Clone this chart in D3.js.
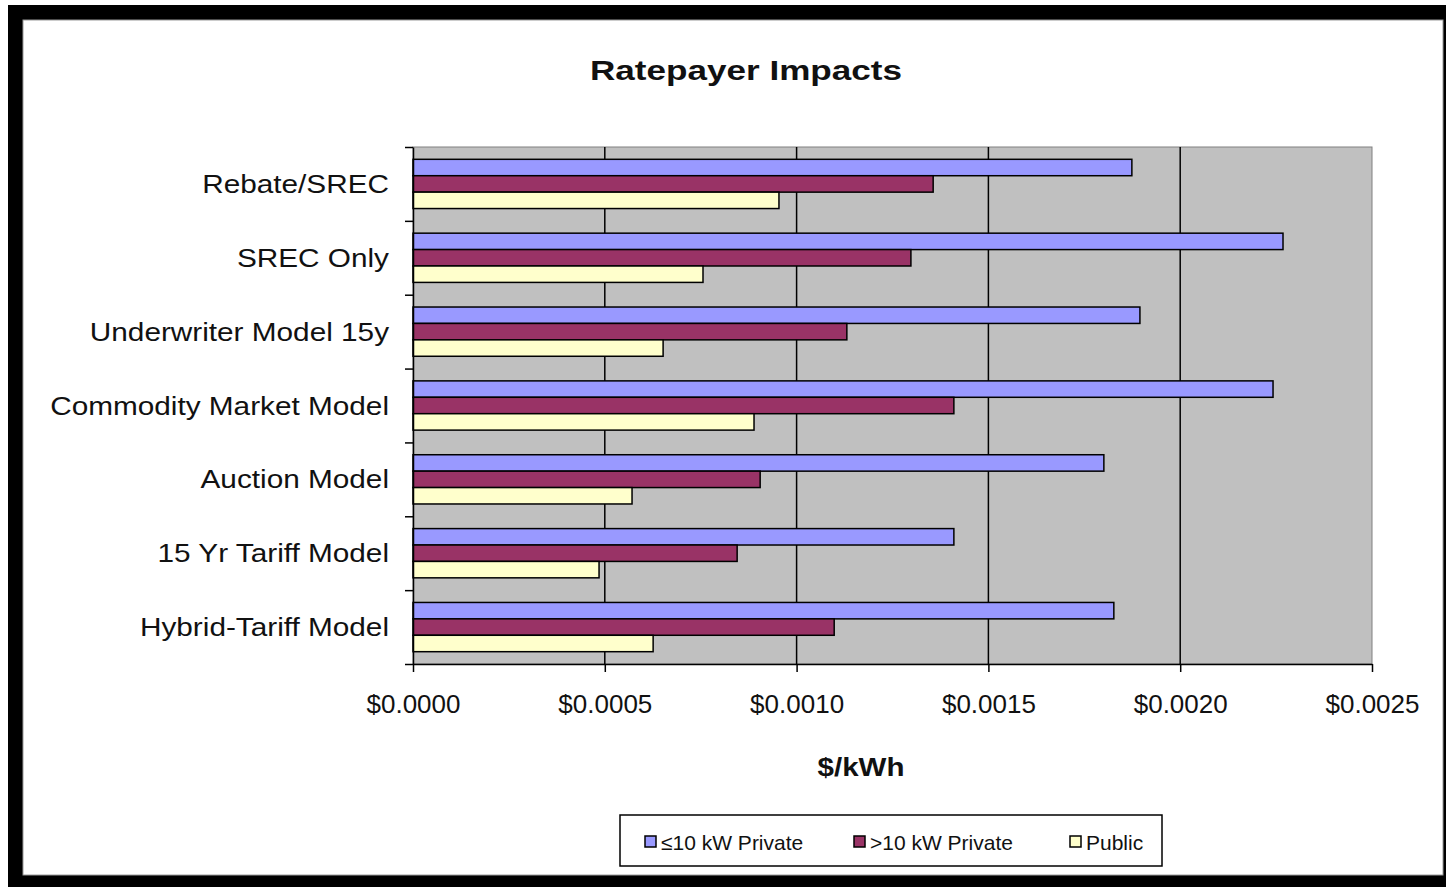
<!DOCTYPE html>
<html>
<head>
<meta charset="utf-8">
<script src="https://cdn.jsdelivr.net/npm/d3@7"></script>
<style>
  html, body { margin: 0; padding: 0; background: #fff; }
  svg { display: block; font-family: "Liberation Sans", Arial, sans-serif; }
</style>
</head>
<body>
<svg id="chart" width="1446" height="887"></svg>
<script>
// Program categories, top to bottom
const categories = [
  "Rebate/SREC",
  "SREC Only",
  "Underwriter Model 15y",
  "Commodity Market Model",
  "Auction Model",
  "15 Yr Tariff Model",
  "Hybrid-Tariff Model"
];

// Series names, in legend order
const seriesNames = ["\u226410 kW Private", ">10 kW Private", "Public"];

// Ratepayer impact, $/kWh, one value per category
const smallPrivate = [0.001874, 0.002268, 0.001895, 0.002242, 0.001801, 0.001410, 0.001827];
const largePrivate = [0.001356, 0.001298, 0.001131, 0.001410, 0.000905, 0.000845, 0.001098];
const publicSector = [0.000954, 0.000756, 0.000652, 0.000889, 0.000571, 0.000485, 0.000626];

// Value axis ticks and labels
const xTicks = [0, 0.0005, 0.0010, 0.0015, 0.0020, 0.0025];
const xTickLabels = ["$0.0000", "$0.0005", "$0.0010", "$0.0015", "$0.0020", "$0.0025"];

const seriesValues = [smallPrivate, largePrivate, publicSector];
const seriesColors = ["#9999FF", "#993366", "#FFFFCC"];

const svg = d3.select("#chart");

// Frame: thick black border around a white panel
svg.append("rect").attr("x", 8).attr("y", 5).attr("width", 1438).attr("height", 882).attr("fill", "#000");
svg.append("rect").attr("x", 23).attr("y", 20).attr("width", 1420).attr("height", 855)
  .attr("fill", "#fff").attr("stroke", "#9a9a9a").attr("stroke-width", 1);

const plot = { left: 413, right: 1372, top: 147, bottom: 664 };

const x = d3.scaleLinear().domain([0, 0.0025]).range([plot.left, plot.right]);
const y = d3.scaleBand().domain(categories).range([plot.top, plot.bottom]).paddingInner(0).paddingOuter(0);
const ySeries = d3.scaleBand().domain(d3.range(seriesNames.length)).range([0, y.bandwidth()])
  .paddingInner(0).paddingOuter(0.75);

// Plot background
svg.append("rect")
  .attr("x", plot.left).attr("y", plot.top)
  .attr("width", plot.right - plot.left).attr("height", plot.bottom - plot.top)
  .attr("fill", "#C0C0C0").attr("stroke", "#808080").attr("stroke-width", 1);

// Vertical gridlines
svg.append("g").selectAll("line")
  .data(xTicks.filter(t => t > 0 && t < 0.0025))
  .join("line")
  .attr("x1", d => x(d)).attr("x2", d => x(d))
  .attr("y1", plot.top).attr("y2", plot.bottom)
  .attr("stroke", "#000").attr("stroke-width", 1.5);

// Bars
const rows = categories.map((c, i) => ({ category: c, values: seriesValues.map(s => s[i]) }));
const groups = svg.append("g").selectAll("g")
  .data(rows)
  .join("g")
  .attr("transform", d => `translate(0,${y(d.category)})`);

groups.selectAll("rect")
  .data(d => d.values.map((v, k) => ({ v, k })))
  .join("rect")
  .attr("x", x(0))
  .attr("y", d => ySeries(d.k))
  .attr("width", d => x(d.v) - x(0))
  .attr("height", ySeries.bandwidth())
  .attr("fill", d => seriesColors[d.k])
  .attr("stroke", "#000").attr("stroke-width", 1.5);

// Category axis: line with ticks between categories
const boundary = d3.scaleLinear().domain([0, categories.length]).range([plot.top, plot.bottom]);
const yAxis = svg.append("g")
  .attr("transform", `translate(${plot.left},0)`)
  .call(d3.axisLeft(boundary).tickValues(d3.range(categories.length + 1)).tickFormat("").tickSize(8).tickSizeOuter(0));
yAxis.selectAll("path, line").attr("stroke", "#000").attr("stroke-width", 1.5);

// Category labels
svg.append("g").selectAll("text")
  .data(categories)
  .join("text")
  .attr("transform", d => `translate(389,${y(d) + y.bandwidth() / 2 + 9}) scale(1.19,1)`)
  .attr("text-anchor", "end")
  .attr("font-size", 25)
  .attr("fill", "#111")
  .text(d => d);

// Value axis
const xAxis = svg.append("g")
  .attr("transform", `translate(0,${plot.bottom})`)
  .call(d3.axisBottom(x).tickValues(xTicks).tickFormat((d, i) => xTickLabels[i]).tickSize(8).tickSizeOuter(0));
xAxis.selectAll("path, line").attr("stroke", "#000").attr("stroke-width", 1.5);
xAxis.selectAll("text")
  .attr("y", 31)
  .attr("font-size", 26)
  .attr("font-family", "'Liberation Sans', Arial, sans-serif")
  .attr("fill", "#111");

// Title
svg.append("text")
  .attr("transform", "translate(746,80) scale(1.3,1)")
  .attr("text-anchor", "middle")
  .attr("font-size", 27)
  .attr("font-weight", "bold")
  .attr("fill", "#111")
  .text("Ratepayer Impacts");

// Value axis title
svg.append("text")
  .attr("transform", "translate(861,776) scale(1.18,1)")
  .attr("text-anchor", "middle")
  .attr("font-size", 25)
  .attr("font-weight", "bold")
  .attr("fill", "#111")
  .text("$/kWh");

// Legend
const legend = svg.append("g");
legend.append("rect")
  .attr("x", 620).attr("y", 815).attr("width", 542).attr("height", 51)
  .attr("fill", "#fff").attr("stroke", "#000").attr("stroke-width", 1.5);
const legendX = [645, 854, 1070];
const item = legend.selectAll("g.item")
  .data(seriesNames)
  .join("g")
  .attr("class", "item")
  .attr("transform", (d, i) => `translate(${legendX[i]},836)`);
item.append("rect")
  .attr("width", 11).attr("height", 11)
  .attr("fill", (d, i) => seriesColors[i])
  .attr("stroke", "#000").attr("stroke-width", 1.5);
item.append("text")
  .attr("x", 16).attr("y", 14)
  .attr("font-size", 21)
  .attr("fill", "#111")
  .text(d => d);
</script>
</body>
</html>
